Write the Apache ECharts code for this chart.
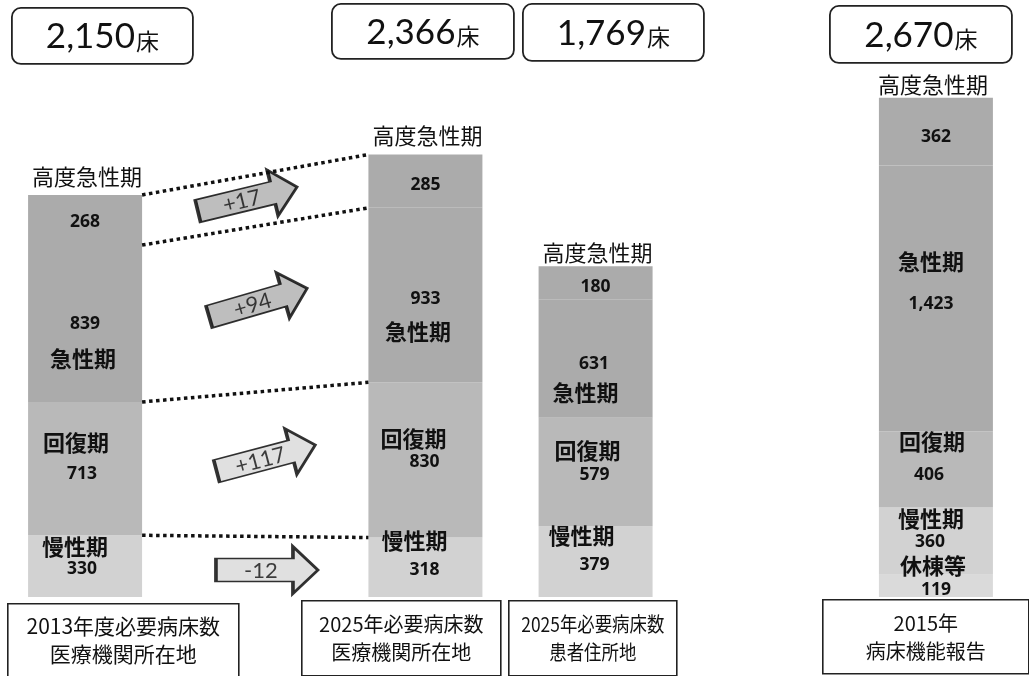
<!DOCTYPE html>
<html><head><meta charset="utf-8">
<script src="https://cdn.jsdelivr.net/npm/echarts@6/dist/echarts.min.js"></script>
<style>html,body{margin:0;padding:0;background:#fff}#c{width:1029px;height:676px}</style>
</head><body><div id="c"></div>
<script>
// ---- data ----
const categories = ['2013年度必要病床数\n医療機関所在地', '', '2025年必要病床数\n医療機関所在地', '2025年必要病床数\n患者住所地', '', '2015年\n病床機能報告'];
const seriesNames = ['休棟等', '慢性期', '回復期', '急性期', '高度急性期'];
const kyuto      = [null, null, null, null, null, 119];
const mansei     = [330, null, 318, 379, null, 360];
const kaifuku    = [713, null, 830, 579, null, 406];
const kyusei     = [839, null, 933, 631, null, 1423];
const kodoKyusei = [268, null, 285, 180, null, 362];
const unit = '床';

// ---- styles / layout ----
const colors = ['#dadada', '#d2d2d2', '#b9b9b9', '#ababab', '#ababab'];
const CJK = '"Noto Sans CJK JP", sans-serif';
const NUM = 'Lato, "Open Sans", sans-serif';
const NUMB = '"Open Sans", "Noto Sans", sans-serif';
// per series, per bar: [gap(name: <0 above, >0 below), valueDy, valueDx, nameDx]
const labelLayout = [
  {5: [-24, 4, 0, -3]},
  {0: [-22.5, 2.5, -3, -10], 2: [-30, 3, -1, -11], 3: [-28.5, 3, -1, -14], 5: [-22.5, 0.5, -6, -5]},
  {0: [-31, 5, -3, -9], 2: [-23.5, 2.5, -1, -12], 3: [-24.5, 3.5, -1, -8], 5: [-33.5, 5.5, -7, -4]},
  {0: [34, 1, 0, -2], 2: [33.5, 3.5, 0, -7.5], 3: [29, 5, -1.5, -10], 5: [-42, 5.5, -5, -5]},
  {0: [-45, 2, 0, 2], 2: [-49, 3.5, 0, 2], 3: [-34, 3.5, 0, 2], 5: [-51.5, 5, 0, -3]}
];
const BAR_W = 114;
const EDGE = 0.335; // half bar width in category units
const arrowStyle = [
  {rot: 13.6, off: [-7.8, -1.6], fill: '#aeaeae'},
  {rot: 16.2, off: [2.9, -6.7], fill: '#aeaeae'},
  {rot: 14.8, off: [10.7, -6.2], fill: '#d8d8d8'},
  {rot: 0, off: [11.7, 3.3], fill: '#d8d8d8'}
];
const topBoxes = [
  {x: 11, y: 7, w: 181, h: 56}, null,
  {x: 331, y: 3, w: 182, h: 55},
  {x: 522, y: 3, w: 181, h: 57}, null,
  {x: 829, y: 5, w: 182, h: 57}
];
const bottomBoxes = [
  {x: 7, y: 603, w: 231, h: 90, fs: 21, sx: 1, cy: 36}, null,
  {x: 301, y: 600, w: 199, h: 75, fs: 20, sx: 1, cy: 37.5},
  {x: 508, y: 600, w: 168, h: 75, fs: 20, sx: 0.87, cy: 37.5}, null,
  {x: 822, y: 599, w: 206, h: 74, fs: 20, sx: 1, cy: 38}
];

const fmt = v => v.toLocaleString('en-US');
const allData = [kyuto, mansei, kaifuku, kyusei, kodoKyusei];
const totals = categories.map((c, i) => allData.reduce((s, d) => s + (d[i] || 0), 0));
const bottomOf = (s, i) => allData.slice(0, s).reduce((a, d) => a + (d[i] || 0), 0);

function itemLabel(s, i, value) {
  const [gap, e, vdx, ndx] = labelLayout[s][i];
  const g = Math.abs(gap);
  const shift = ndx - vdx;
  const pad = shift < 0 ? [0, -2 * shift, 0, 0] : [0, 0, 0, 2 * shift];
  const nk = s === 4 ? 'nr' : 'nb';
  const v = '{v|' + fmt(value) + '}';
  const n = '{' + nk + '|' + seriesNames[s] + '}';
  return {
    show: true,
    position: 'inside',
    formatter: gap < 0 ? n + '\n' + v : v + '\n' + n,
    offset: [vdx, gap < 0 ? e - g / 2 : e + g / 2],
    rich: {
      v: {fontFamily: NUMB, fontWeight: 'bold', fontSize: 17.5, color: '#111', lineHeight: g},
      nb: {fontFamily: CJK, fontWeight: 'bold', fontSize: 22, color: '#111', lineHeight: g, padding: pad},
      nr: {fontFamily: CJK, fontWeight: 'normal', fontSize: 22, color: '#111', lineHeight: g, padding: pad}
    }
  };
}

const barSeries = allData.map((d, s) => ({
  type: 'bar', name: seriesNames[s], stack: 'total', barWidth: BAR_W,
  xAxisIndex: 0, yAxisIndex: 0, z: 2,
  itemStyle: {color: colors[s]},
  data: d.map((v, i) => v == null ? null : {value: v, label: itemLabel(s, i, v)})
}));

// dotted connector lines between bar 0 and bar 2 at segment boundaries
const lineSeries = [1, 2, 3, 4].map(s => ({
  type: 'line', xAxisIndex: 1, yAxisIndex: 0, z: 6, symbol: 'none', silent: true,
  lineStyle: {color: '#111', width: 3.5, type: [3.5, 3.5], cap: 'butt'},
  data: [[0 + EDGE, bottomOf(s + 1, 0)], [2 - EDGE, bottomOf(s + 1, 2)]]
}));

// change arrows (高度急性期..慢性期), listed top to bottom
const arrowSeriesIdx = [4, 3, 2, 1];
const arrowData = arrowSeriesIdx.map((s, k) => {
  const mid0 = bottomOf(s, 0) + allData[s][0] / 2;
  const mid2 = bottomOf(s, 2) + allData[s][2] / 2;
  const diff = allData[s][2] - allData[s][0];
  const st = arrowStyle[k];
  return {
    value: [1, (mid0 + mid2) / 2],
    symbolRotate: st.rot,
    symbolOffset: st.off,
    itemStyle: {color: st.fill, borderColor: '#000', borderWidth: 2.5},
    label: {show: true, position: 'inside', rotate: st.rot, offset: [-6, 1],
      formatter: (diff > 0 ? '+' : '') + diff,
      fontFamily: NUM, fontSize: 22, color: '#111'}
  };
});

const graphics = [];
topBoxes.forEach((b, i) => {
  if (!b) return;
  graphics.push({type: 'group', left: b.x, top: b.y, children: [
    {type: 'rect', shape: {x: 0, y: 0, width: b.w, height: b.h, r: 9},
     style: {fill: '#fff', stroke: '#222', lineWidth: 1.8}},
    {type: 'text', style: {x: b.w / 2, y: b.h / 2 + 1, align: 'center', verticalAlign: 'middle',
      text: '{n|' + fmt(totals[i]) + '}{u|' + unit + '}',
      rich: {n: {fontFamily: NUM, fontSize: 35, fill: '#111', lineHeight: 40},
             u: {fontFamily: CJK, fontSize: 23, fill: '#111', lineHeight: 32, padding: [8, 0, 0, 1]}}}}
  ]});
});
bottomBoxes.forEach((b, i) => {
  if (!b) return;
  graphics.push({type: 'group', left: b.x, top: b.y, children: [
    {type: 'rect', shape: {x: 0, y: 0, width: b.w, height: b.h},
     style: {fill: '#fff', stroke: '#222', lineWidth: 1.6}},
    {type: 'text', x: b.w / 2, y: b.cy, scaleX: b.sx,
     style: {x: 0, y: 0, align: 'center', verticalAlign: 'middle',
      text: categories[i], fontFamily: CJK, fontSize: b.fs, lineHeight: 28, fill: '#111'}}
  ]});
});

const chart = echarts.init(document.getElementById('c'), null, {renderer: 'canvas'});
chart.setOption({
  animation: false,
  backgroundColor: '#fff',
  grid: {left: 0, right: 8, top: 36, bottom: 79, containLabel: false},
  xAxis: [
    {type: 'category', data: categories, show: false},
    {type: 'value', min: -0.5, max: 5.5, show: false}
  ],
  yAxis: [{type: 'value', min: 0, max: 3000, show: false}],
  series: barSeries.concat(lineSeries, [{
    type: 'scatter', xAxisIndex: 1, yAxisIndex: 0, z: 5, silent: true,
    symbol: 'path://M0,12L77,12L77,0L102,23.5L77,47L77,35L0,35Z',
    symbolSize: [102, 47], symbolKeepAspect: false,
    data: arrowData
  }]),
  graphic: graphics
});
</script></body></html>
